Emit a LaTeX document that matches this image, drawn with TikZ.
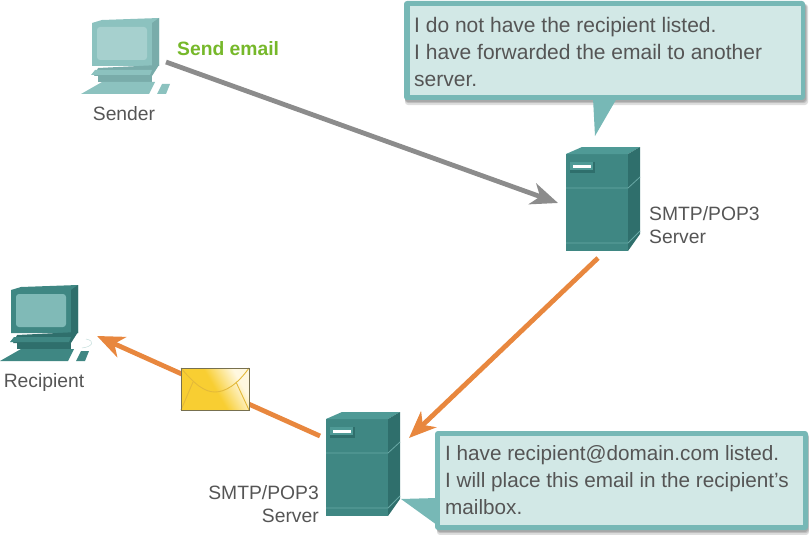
\documentclass[tikz,border=0pt]{standalone}
\usepackage{fontspec}
\setmainfont{Liberation Sans}
\usetikzlibrary{arrows.meta,calc}
\definecolor{srvF}{HTML}{3F8783}
\definecolor{srvT}{HTML}{4F9A96}
\definecolor{srvS}{HTML}{2F6F6C}
\definecolor{lblue}{HTML}{D2E8E6}
\definecolor{bord}{HTML}{77B8B6}
\definecolor{orng}{HTML}{E8873E}
\definecolor{gry}{HTML}{8C8C8C}
\definecolor{txt}{HTML}{555555}
\definecolor{grn}{HTML}{76B82A}
\definecolor{pcA}{HTML}{8CC2BF}
\definecolor{pcB}{HTML}{A6D0CE}
\definecolor{pcC}{HTML}{79ACAA}
\definecolor{pdA}{HTML}{3F8783}
\definecolor{pdB}{HTML}{80BAB7}
\definecolor{pdC}{HTML}{2F6F6C}
\definecolor{envY}{HTML}{F8CE32}
\definecolor{envL}{HTML}{FFF8E0}
\definecolor{envE}{HTML}{E3B93A}
\definecolor{envB}{HTML}{77704F}
\pgfdeclarehorizontalshading{envshade}{100bp}{color(0bp)=(envL); color(28bp)=(envL); color(50bp)=(envY); color(100bp)=(envY)}
\tikzset{
 px/.style={x=1pt,y=-1pt},
 lbl/.style={font=\fontsize{19.3}{23}\selectfont,text=txt,inner sep=0pt,align=left},
 bubbletext/.style={font=\fontsize{20.8}{27}\selectfont,text=txt,inner sep=0pt,align=left},
 conn/.style={line width=4.8pt,-{Stealth[length=27pt,width=22pt,inset=8pt]}},
 softshadow/.style={fill=black,opacity=.13,rounded corners=3pt},
}
\newcommand{\server}[2]{%
 \begin{scope}[shift={(#1,#2)}]
  \fill[srvF] (0,7) rectangle (62,104);
  \fill[srvT] (0,7) -- (16,0) -- (74,0) -- (62,7) -- cycle;
  \fill[srvS] (62,7) -- (74,0) -- (74,87) -- (62,104) -- cycle;
  \draw[srvT!85!white,line width=.8pt] (0,41) -- (62,41) -- (74,30);
  \draw[srvT!85!white,line width=.8pt] (0,96) -- (62,96) -- (74,84);
  \fill[srvS] (4,15) rectangle (29,26);
  \fill[srvT] (4,15) rectangle (27,23);
  \fill[white] (7,18) rectangle (25,21);
 \end{scope}}
\newcommand{\computer}[5]{%
 \begin{scope}[shift={(#1,#2)}]
  \fill[#3] (0,5) -- (10,2) -- (67,0) -- (67,48) -- (0,48) -- cycle;
  \fill[#5] (60,5) -- (67,0) -- (67,48) -- (60,48) -- cycle;
  \fill[#4,rounded corners=3pt] (5,9) rectangle (55,42);
  \fill[#5] (6,50) -- (67,47) -- (60,58) -- (2,58) -- cycle;
  \fill[#3] (3,52) -- (60,52) -- (58,57) -- (-1,57) -- cycle;
  \fill[#5] (6,58) -- (60,58) -- (60,64) -- (6,64) -- cycle;
  \fill[#3] (10,64) -- (63,64) -- (57,76) -- (-11,76) -- cycle;
  \fill[#3] (70,66) -- (78,66) -- (74,76) -- (65,76) -- cycle;
 \end{scope}}
\begin{document}
\begin{tikzpicture}[px]
\useasboundingbox (0,0) rectangle (809,535);
% arrows
\coordinate (sA) at (166,62);
\coordinate (sB) at (558,203);
\coordinate (oA) at (598,258);
\coordinate (oB) at (409,438);
\coordinate (rA) at (320,436);
\coordinate (rB) at (97,336);
\draw[conn,draw=gry] (sA) -- (sB);
\draw[conn,draw=orng] (oA) -- (oB);
\draw[conn,draw=orng] (rA) -- (rB);
% computers
\computer{92}{18}{pcA}{pcB}{pcC}
\computer{11}{285}{pdA}{pdB}{pdC}
\draw[srvT!35!white,line width=.5pt] (86,339) .. controls (96,341) and (92,347) .. (82,348);
% servers
\server{566}{147}
\server{326}{412}
% envelope
\path[shading=envshade,shading angle=-150] (181,368) rectangle (249,410);
\draw[envE,line width=.9pt] (181,368) .. controls (195,385) and (205,392) .. (215,392) .. controls (225,392) and (237,385) .. (249,368);
\draw[envE,line width=.9pt] (181,410) -- (193,382) (249,410) -- (236,382);
\draw[envB,line width=1pt] (181,368) rectangle (249,410);
% callouts
\fill[softshadow] (405,4) rectangle (808,105);
\fill[softshadow] (405,4) rectangle (807,103);
\fill[softshadow] (405,4) rectangle (806,102);
\fill[bord,rounded corners=3pt] (404,1) rectangle (805,100);
\fill[bord] (593,98) -- (617,98) -- (595,136) -- cycle;
\fill[lblue] (410,6) rectangle (801,95);
\fill[softshadow] (437,434) rectangle (809,535);
\fill[softshadow] (437,434) rectangle (809,533);
\fill[softshadow] (437,434) rectangle (808,532);
\fill[bord,rounded corners=3pt] (435,431) rectangle (808,530);
\fill[bord] (437,498) -- (437,525) -- (401,499) -- cycle;
\fill[lblue] (440,436) rectangle (803,525);
% text
\node[bubbletext,font=\fontsize{21}{27}\selectfont,anchor=north west] (c1) at (414,17) {I do not have the recipient listed.\\I have forwarded the email to another\\server.};
\node[bubbletext,font=\fontsize{20.7}{27}\selectfont,anchor=north west] (c2) at (445,445) {I have recipient@domain.com listed.\\I will place this email in the recipient\symbol{39}s\\mailbox.};
\node[lbl,anchor=center] (ls) at (124,114) {Sender};
\node[lbl,anchor=center] (lr) at (44,383) {Recipient};
\node[lbl,anchor=north west] (l1) at (649,206) {SMTP/POP3\\Server};
\node[lbl,anchor=north east,align=right] (l2) at (319,485) {SMTP/POP3\\Server};
\node[anchor=west,inner sep=0pt,text=grn,font=\fontsize{19.3}{23}\selectfont\bfseries] (se) at (177,49) {Send email};
\end{tikzpicture}
\end{document}
